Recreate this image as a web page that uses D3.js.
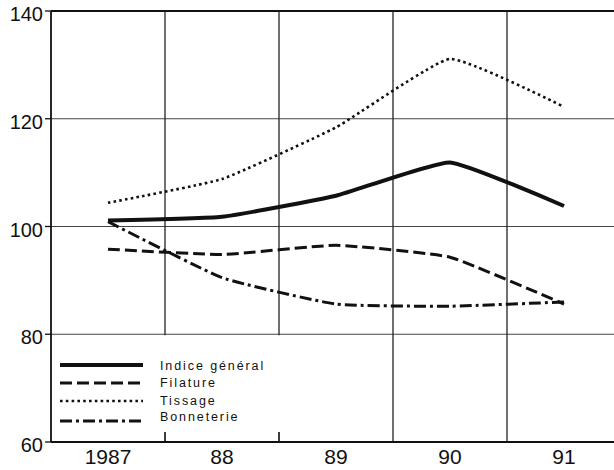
<!DOCTYPE html>
<html>
<head>
<meta charset="utf-8">
<script src="https://cdn.jsdelivr.net/npm/d3@7"></script>
<style>
  html, body { margin: 0; padding: 0; background: #fff; }
  svg { display: block; }
  text { font-family: "Liberation Sans", Arial, Helvetica, sans-serif; fill: #111; }
</style>
</head>
<body>
<svg id="chart" width="614" height="470"></svg>
<script>
const years = ["1987", "88", "89", "90", "91"];
const yTicks = [60, 80, 100, 120, 140];
const indiceGeneral = [101.1, 101.8, 105.7, 111.9, 103.8];
const filature      = [95.8, 94.8, 96.5, 94.3, 85.6];
const tissage       = [104.4, 108.8, 118.4, 131.1, 122.2];
const bonneterie    = [100.9, 90.5, 85.6, 85.2, 86.0];
const seriesNames = ["Indice général", "Filature", "Tissage", "Bonneterie"];

const svg = d3.select("#chart");
const W = 614;
const x = d3.scaleBand().domain(years).range([51, 621]).padding(0);
const y = d3.scaleLinear().domain([60, 140]).range([442, 11]);
const cx = d => x(d) + x.bandwidth() / 2;

const styles = [
  { w: 4,   dash: null },
  { w: 3,   dash: "12,5" },
  { w: 2.6, dash: "2.6,3.2" },
  { w: 3,   dash: "12,4,3,4" }
];
const data = [indiceGeneral, filature, tissage, bonneterie];

// horizontal grid
svg.append("g").selectAll("line").data(yTicks.filter(v => v > 60)).join("line")
  .attr("x1", 51).attr("x2", W)
  .attr("y1", d => y(d)).attr("y2", d => y(d))
  .attr("stroke", d => d === 140 ? "#111" : "#444")
  .attr("stroke-width", d => d === 140 ? 1.8 : 1.2);

// vertical grid (band edges)
const edges = years.slice(1).map(d => x(d));
svg.append("g").selectAll("line").data(edges).join("line")
  .attr("x1", d => d).attr("x2", d => d)
  .attr("y1", y(140)).attr("y2", y(60))
  .attr("stroke", "#222").attr("stroke-width", 1.3);

// legend background (hides grid behind legend)
svg.append("rect").attr("x", 52).attr("y", y(80) + 1)
  .attr("width", 236).attr("height", 432 - y(80) - 1).attr("fill", "#fff");

// bottom tick marks under legend
svg.append("g").selectAll("line").data(edges.filter(e => e < 290)).join("line")
  .attr("x1", d => d).attr("x2", d => d)
  .attr("y1", 432).attr("y2", y(60))
  .attr("stroke", "#222").attr("stroke-width", 1.3);

// axes
svg.append("line").attr("x1", 51).attr("x2", 51).attr("y1", y(140)).attr("y2", y(60))
  .attr("stroke", "#111").attr("stroke-width", 1.8);
svg.append("line").attr("x1", 51).attr("x2", W).attr("y1", y(60)).attr("y2", y(60))
  .attr("stroke", "#111").attr("stroke-width", 1.8);

// y ticks + labels
svg.append("g").selectAll("line").data(yTicks).join("line")
  .attr("x1", 45).attr("x2", 51).attr("y1", d => y(d)).attr("y2", d => y(d))
  .attr("stroke", "#111").attr("stroke-width", 1.3);
svg.append("g").selectAll("text").data(yTicks).join("text")
  .attr("x", 43).attr("y", d => y(d) + 10)
  .attr("text-anchor", "end").attr("font-size", 20)
  .text(d => d);

// x labels
svg.append("g").selectAll("text").data(years).join("text")
  .attr("x", d => cx(d)).attr("y", 464)
  .attr("text-anchor", "middle").attr("font-size", 21)
  .text(d => d);

// series lines
const line = d3.line()
  .x((d, i) => cx(years[i]))
  .y(d => y(d))
  .curve(d3.curveCardinal.tension(0.6));

data.forEach((vals, k) => {
  svg.append("path").datum(vals)
    .attr("d", line)
    .attr("fill", "none")
    .attr("stroke", "#111")
    .attr("stroke-width", styles[k].w)
    .attr("stroke-dasharray", styles[k].dash)
    .attr("stroke-linejoin", "miter");
});

// legend
const legY = [365, 383, 401, 421];
const textY = [365, 382, 400, 416];
seriesNames.forEach((name, k) => {
  svg.append("line")
    .attr("x1", 60).attr("x2", 143)
    .attr("y1", legY[k]).attr("y2", legY[k])
    .attr("stroke", "#111")
    .attr("stroke-width", styles[k].w)
    .attr("stroke-dasharray", styles[k].dash);
  svg.append("text")
    .attr("x", 160).attr("y", textY[k] + 4.5)
    .attr("font-size", 12.5)
    .attr("letter-spacing", 1.9)
    .text(name);
});
</script>
</body>
</html>
